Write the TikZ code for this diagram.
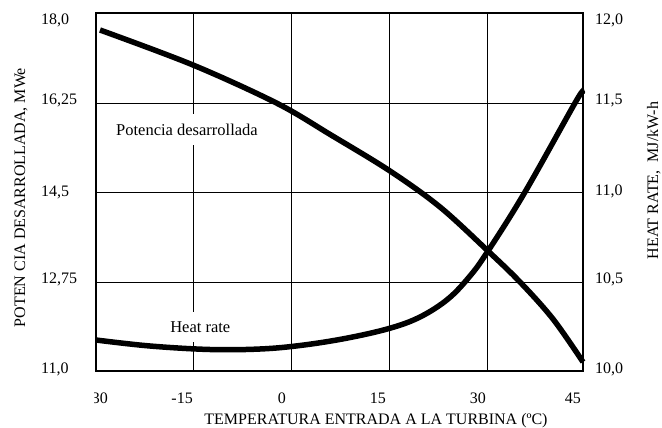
\documentclass[tikz,border=0pt]{standalone}
\usepackage{fontspec}
\setmainfont{Liberation Serif}
\begin{document}
\begin{tikzpicture}[x=1pt,y=-1pt,
  gridline/.style={line width=0.8pt},
  framebox/.style={line width=1.7pt},
  curve/.style={line width=5.5pt},
  tick/.style={font=\fontsize{16}{19}\selectfont, inner sep=0pt},
  lbl/.style={font=\fontsize{16.5}{19}\selectfont, fill=white, inner xsep=3pt, inner ysep=10pt},
  axtitle/.style={font=\fontsize{16}{19}\selectfont, inner sep=0pt}]
\useasboundingbox (0,0) rectangle (662,428);
% grid
\foreach \xx in {193.3,291.7,389.7,487.7}
  \draw[gridline] (\xx,13.3) -- (\xx,370.7);
\foreach \yy in {103.3,192.3,282.3}
  \draw[gridline] (96,\yy) -- (583.3,\yy);
% in-plot labels
\node[lbl] (potlbl) at (187,129.5) {Potencia desarrollada};
\node[lbl] (hrlbl) at (200.3,327) {Heat rate};
% frame
\draw[framebox] (96,13.3) rectangle (583.3,370.7);
% curves
\draw[curve] plot[smooth, tension=0.55] coordinates {(100,30) (193,65) (277,103.3) (331,135) (390,171) (440,207) (488,251) (520,282) (553,319) (583,362)};
\draw[curve] plot[smooth, tension=0.6] coordinates {(96,340) (150,346) (210,349.5) (260,349) (300,345.5) (345,338.5) (389,328.5) (420,317) (448,299) (470,276) (488,251) (525,192) (575,103) (582,93)};
% left ticks
\node[tick, anchor=base west] (l1) at (41,24.3) {18,0};
\node[tick, anchor=base west] (l2) at (41,104.3) {16,25};
\node[tick, anchor=base west] (l3) at (41,196) {14,5};
\node[tick, anchor=base west] (l4) at (41,283.3) {12,75};
\node[tick, anchor=base west] (l5) at (41,373.3) {11,0};
% right ticks
\node[tick, anchor=base west] (r1) at (595,24.3) {12,0};
\node[tick, anchor=base west] (r2) at (595,104.3) {11,5};
\node[tick, anchor=base west] (r3) at (595,195) {11,0};
\node[tick, anchor=base west] (r4) at (595,283.3) {10,5};
\node[tick, anchor=base west] (r5) at (595,373.3) {10,0};
% bottom ticks
\begin{scope}
  \clip (94,380) rectangle (150,410);
  \node[tick, anchor=base east] (b0) at (108,403) {-30};
\end{scope}
\node[tick, anchor=base east] (b1) at (193,403) {-15};
\node[tick, anchor=base east] (b2) at (286,403) {0};
\node[tick, anchor=base east] (b3) at (386,403) {15};
\node[tick, anchor=base east] (b4) at (486,403) {30};
\node[tick, anchor=base east] (b5) at (581,403) {45};
% axis titles
\node[axtitle, anchor=base] (xt) at (376,424.5) {TEMPERATURA ENTRADA A LA TURBINA (ºC)};
\node[axtitle, anchor=base, rotate=90] (ylt) at (25,197.5) {POTEN CIA DESARROLLADA, MWe};
\node[axtitle, anchor=base, rotate=90] (yrt) at (658,180.5) {HEAT RATE,\ \ MJ/kW-h};
\end{tikzpicture}
\end{document}
